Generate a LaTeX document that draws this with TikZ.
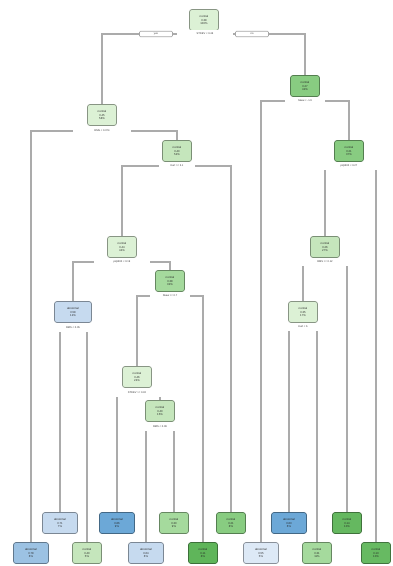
\documentclass[tikz,border=0pt]{standalone}
\usepackage{fontspec}
\setmainfont{Liberation Sans}
\usetikzlibrary{backgrounds}
\definecolor{lgA}{HTML}{DCF1D5}
\definecolor{lgB}{HTML}{C5E6BC}
\definecolor{gA}{HTML}{A5DA9D}
\definecolor{gB}{HTML}{88CC81}
\definecolor{gC}{HTML}{5FB55A}
\definecolor{lbA}{HTML}{DDE9F6}
\definecolor{lbB}{HTML}{C6DAEF}
\definecolor{bA}{HTML}{9CC2E3}
\definecolor{bB}{HTML}{6CA8D7}
\definecolor{edgegray}{HTML}{ABABAB}
\newcommand{\nt}[3]{#1\\#2\\#3}
\tikzset{
  nd/.style={rounded corners=2.5pt, fill=#1, draw=#1!62!black, line width=0.7pt,
    minimum width=29pt, minimum height=21pt, inner sep=0pt, align=center,
    font=\fontsize{2.8}{3.4}\selectfont, text=black!85},
  wide/.style={minimum width=35pt},
  split/.style={fill=white, inner sep=0pt, minimum height=8pt,
    font=\fontsize{2.6}{3}\selectfont, text=black!80},
  yn/.style={draw=gray!70, fill=white, rounded corners=1pt, minimum width=33pt,
    minimum height=5.5pt, inner sep=0pt, line width=0.6pt,
    font=\fontsize{2.6}{3}\selectfont, text=black!80},
  conn/.style={draw=edgegray, line width=1.1pt},
}
\begin{document}
\begin{tikzpicture}[x=1pt,y=-1pt]
\useasboundingbox (0,0) rectangle (392,566);
% internal nodes
\node[nd=lgA] (n1) at (204,20) {\nt{normal}{0.38}{100\%}};
\node[split, minimum width=56pt] (s1) at (205,34) {STDEV < 0.46};
\node[nd=lgA] (n2) at (102,115) {\nt{normal}{0.45}{58\%}};
\node[split, minimum width=58pt] (s2) at (102,131) {RMS < 0.074};
\node[nd=gB] (n3) at (305,86) {\nt{normal}{0.27}{42\%}};
\node[split, minimum width=40pt] (s3) at (305,101) {Skew < -1.9};
\node[nd=lgB] (n5) at (177,151) {\nt{normal}{0.40}{52\%}};
\node[split, minimum width=36pt] (s5) at (177,166) {Kurt >= 3.1};
\node[nd=gB] (n7) at (349,151) {\nt{normal}{0.21}{37\%}};
\node[split, minimum width=58pt] (s7) at (349,166) {p2p500 < 0.27};
\node[nd=lgA] (n10) at (122,247) {\nt{normal}{0.44}{44\%}};
\node[split, minimum width=56pt] (s10) at (122,262) {p2p500 < 0.19};
\node[nd=lgB] (n14) at (325,247) {\nt{normal}{0.26}{27\%}};
\node[split, minimum width=48pt] (s14) at (325,262) {RMS >= 0.12};
\node[nd=lbB, minimum width=37pt] (n20) at (73,312) {\nt{abnormal}{0.58}{12\%}};
\node[split, minimum width=32pt] (s20) at (73,328) {RMS < 0.05};
\node[nd=gA] (n21) at (170,281) {\nt{normal}{0.38}{32\%}};
\node[split, minimum width=40pt] (s21) at (170,296) {Skew >= 0.7};
\node[nd=lgA] (n28) at (303,312) {\nt{normal}{0.35}{17\%}};
\node[split, minimum width=32pt] (s28) at (303,327) {Kurt < 6};
\node[nd=lgA] (n42) at (137,377) {\nt{normal}{0.46}{24\%}};
\node[split, minimum width=50pt] (s42) at (137,393) {STDEV >= 0.32};
\node[nd=lgB] (n85) at (160,411) {\nt{normal}{0.40}{15\%}};
\node[split, minimum width=32pt] (s85) at (160,427) {RMS < 0.09};
% yes / no
\node[yn] (yes) at (156,34) {yes};
\node[yn] (no) at (252,34) {no};
% leaves, upper row
\node[nd=lbB, wide] (a) at (60,523) {\nt{abnormal}{0.71}{7\%}};
\node[nd=bB, wide] (b) at (117,523) {\nt{abnormal}{0.86}{9\%}};
\node[nd=gA] (c) at (174,523) {\nt{normal}{0.30}{9\%}};
\node[nd=gB] (d) at (231,523) {\nt{normal}{0.21}{8\%}};
\node[nd=bB, wide] (e) at (289,523) {\nt{abnormal}{0.83}{6\%}};
\node[nd=gC!85!gB] (f) at (347,523) {\nt{normal}{0.14}{10\%}};
% leaves, lower row
\node[nd=bA, wide] (g) at (31,553) {\nt{abnormal}{0.78}{6\%}};
\node[nd=lgB] (h) at (87,553) {\nt{normal}{0.40}{5\%}};
\node[nd=lbB, wide] (i) at (146,553) {\nt{abnormal}{0.64}{6\%}};
\node[nd=gC] (j) at (203,553) {\nt{normal}{0.11}{8\%}};
\node[nd=lbA, wide] (k) at (261,553) {\nt{abnormal}{0.55}{5\%}};
\node[nd=gA] (l) at (317,553) {\nt{normal}{0.31}{11\%}};
\node[nd=gC!80!gB] (m) at (376,553) {\nt{normal}{0.13}{10\%}};
% connectors
\begin{scope}[on background layer]
  \fill[white] (0,0) rectangle (392,566);
  \draw[conn] (s1.center) -| (n2.north);
  \draw[conn] (s1.center) -| (n3.north);
  \draw[conn] (s2.center) -| (g.north);
  \draw[conn] (s2.center) -| (n5.north);
  \draw[conn] (s5.center) -| (n10.north);
  \draw[conn] (s5.center) -| (d.north);
  \draw[conn] (s10.center) -| (n20.north);
  \draw[conn] (s10.center) -| (n21.north);
  \draw[conn] (s20.center) -| (a.north);
  \draw[conn] (s20.center) -| (h.north);
  \draw[conn] (s21.center) -| (n42.north);
  \draw[conn] (s21.center) -| (j.north);
  \draw[conn] (s42.center) -| (b.north);
  \draw[conn] (s42.center) -| (n85.north);
  \draw[conn] (s85.center) -| (i.north);
  \draw[conn] (s85.center) -| (c.north);
  \draw[conn] (s3.center) -| (k.north);
  \draw[conn] (s3.center) -| (n7.north);
  \draw[conn] (s7.center) -| (n14.north);
  \draw[conn] (s7.center) -| (m.north);
  \draw[conn] (s14.center) -| (n28.north);
  \draw[conn] (s14.center) -| (f.north);
  \draw[conn] (s28.center) -| (e.north);
  \draw[conn] (s28.center) -| (l.north);
\end{scope}
\end{tikzpicture}
\end{document}
